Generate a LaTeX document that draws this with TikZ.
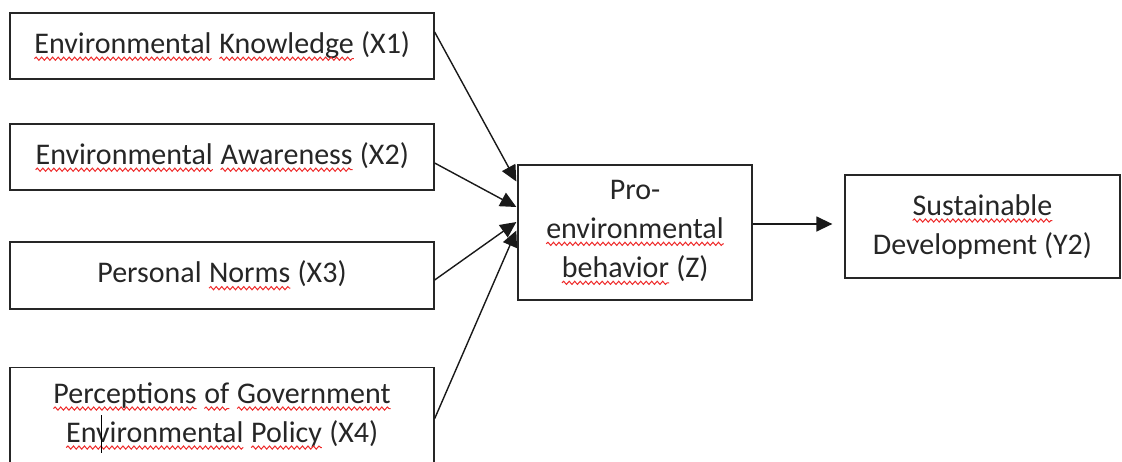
\documentclass[tikz,border=0pt]{standalone}
\usepackage{fontspec}
\setmainfont{Carlito}
\usepackage{xcolor}
\usetikzlibrary{arrows.meta,decorations.pathmorphing}
\definecolor{squig}{HTML}{EE2A2A}
\definecolor{txtc}{HTML}{262626}
\newcommand\rw[1]{\tikz[baseline=(w.base),x=1pt,y=1pt]{\node[draw=none,inner sep=0pt,outer sep=0pt,minimum width=0pt,minimum height=0pt,anchor=base,text=txtc,font=\fontsize{30}{39}\selectfont] (w) at (0,0) {#1};
  \draw[draw=squig,line width=1pt,decorate,decoration={snake,amplitude=1.6pt,segment length=5.5pt}] ([yshift=-5.5pt]w.base west) -- ([yshift=-5.5pt]w.base east);}}
\begin{document}
\begin{tikzpicture}[x=1pt,y=-1pt,
  box/.style={draw=black!85, line width=1.3pt, inner sep=0pt, align=center,
    font=\fontsize{30}{39}\selectfont, text=txtc},
  txtstyle/.style={inner sep=0pt, align=center, font=\fontsize{30}{39}\selectfont, text=txtc},
  arr/.style={line width=1.4pt, draw=black!90, -{Triangle[length=16pt,width=15pt]}}]
\useasboundingbox (0,0) rectangle (1122,461);
\clip (0,0) rectangle (1122,461);
\node[box, minimum width=424, minimum height=66] (x1) at (222,46) {\rw{Environmental} \rw{Knowledge} (X1)};
\node[box, minimum width=424, minimum height=66] (x2) at (222,157) {\rw{Environmental} \rw{Awareness} (X2)};
\node[box, minimum width=424, minimum height=67] (x3) at (222,275.5) {Personal \rw{Norms} (X3)};
\node[box, minimum width=424, minimum height=140, anchor=north] (x4) at (222,367) {};
\node[txtstyle] (x4t) at (222,416) {\rw{Perceptions} \rw{of} \rw{Government}\\ \rw{Environmental} \rw{Policy} (X4)};
\node[box, minimum width=234, minimum height=135] (z) at (635,232.5) {Pro-\\\rw{environmental}\\\rw{behavior} (Z)};
\node[box, minimum width=275, minimum height=103] (y2) at (982.5,226.5) {\rw{Sustainable}\\Development (Y2)};
\draw[arr] ([yshift=14pt]x1.east) -- ([xshift=-1pt,yshift=51pt]z.west);
\draw[arr] ([yshift=-6pt]x2.east) -- ([xshift=-1pt,yshift=25.5pt]z.west);
\draw[arr] ([yshift=-4.5pt]x3.east) -- ([xshift=-1pt,yshift=10.5pt]z.west);
\draw[arr] ([yshift=19pt]x4.east) -- ([xshift=-1pt,yshift=2pt]z.west);
\draw[arr] ([yshift=8.5pt]z.east) -- ([xshift=-12pt,yshift=2.5pt]y2.west);
\coordinate (cura) at (101,415);
\coordinate (curb) at (101,453);
\draw[line width=1pt] (cura) -- (curb);
\end{tikzpicture}
\end{document}
